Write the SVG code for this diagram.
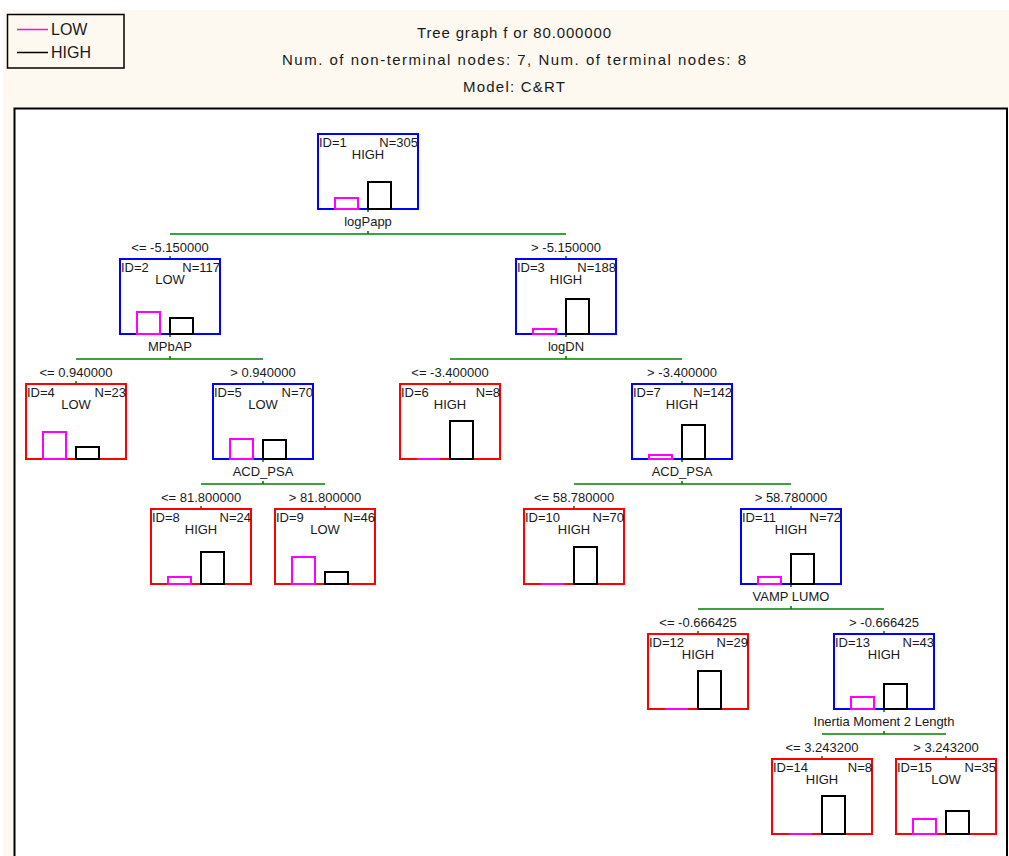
<svg xmlns="http://www.w3.org/2000/svg" width="1009" height="856" viewBox="0 0 1009 856">
  <style>
    text { font-family: "Liberation Sans", Arial, sans-serif; fill: #1a1a1a; }
    .hdr { font-size: 15px; text-anchor: middle; }
    .leg { font-size: 16px; }
    .nt { font-size: 13px; }
    .mid { text-anchor: middle; }
    .end { text-anchor: end; }
    .split { fill: #ffffff; stroke: #0000ff; stroke-width: 2; }
    .leaf { fill: #ffffff; stroke: #ff0000; stroke-width: 2; }
    .lo { fill: none; stroke: #ff00ff; stroke-width: 2; }
    .hi { fill: none; stroke: #000000; stroke-width: 2; }
    .edge { fill: none; stroke: #008000; stroke-width: 1.6; }
    .tick { fill: none; stroke: #008000; stroke-width: 1.6; }
    .lbl { font-size: 13px; text-anchor: middle; }
  </style>

  <!-- page background and plot frame -->
  <rect x="3" y="10" width="1006" height="846" fill="#fdf9f0"/>
  <rect x="14.5" y="108.5" width="992.5" height="760" fill="#ffffff" stroke="#000000" stroke-width="2"/>

  <!-- legend -->
  <g id="legend">
    <rect x="7.5" y="14.5" width="116.5" height="53.5" fill="#fdf9f0" stroke="#000000" stroke-width="1.5"/>
    <line x1="17" y1="29.5" x2="48" y2="29.5" stroke="#ff00ff" stroke-width="1.5"/>
    <text class="leg" x="51" y="35">LOW</text>
    <line x1="17" y1="52.5" x2="48" y2="52.5" stroke="#000000" stroke-width="1.5"/>
    <text class="leg" x="51" y="58">HIGH</text>
  </g>

  <!-- header -->
  <g id="title">
    <text class="hdr" x="514" y="38" textLength="194" lengthAdjust="spacing">Tree graph f or 80.000000</text>
    <text class="hdr" x="514" y="65" textLength="464" lengthAdjust="spacing">Num. of non-terminal nodes: 7,  Num. of terminal nodes: 8</text>
    <text class="hdr" x="514" y="92" textLength="102" lengthAdjust="spacing">Model: C&amp;RT</text>
  </g>

  <!-- connectors: split bars with short ticks, and branch conditions -->
  <g id="connectors">
    <path class="edge" d="M170 234H566"/>
    <path class="tick" d="M368 209V212 M368 231V234 M170 256V259 M566 256V259"/>
    <path class="edge" d="M76 359H263"/>
    <path class="tick" d="M170 334V337 M170 356V359 M76 381V384 M263 381V384"/>
    <path class="edge" d="M450 359H682"/>
    <path class="tick" d="M566 334V337 M566 356V359 M450 381V384 M682 381V384"/>
    <path class="edge" d="M201 484H325"/>
    <path class="tick" d="M263 459V462 M263 481V484 M201 506V509 M325 506V509"/>
    <path class="edge" d="M574 484H791"/>
    <path class="tick" d="M682 459V462 M682 481V484 M574 506V509 M791 506V509"/>
    <path class="edge" d="M698 609H884"/>
    <path class="tick" d="M791 584V587 M791 606V609 M698 631V634 M884 631V634"/>
    <path class="edge" d="M822 734H946"/>
    <path class="tick" d="M884 709V712 M884 731V734 M822 756V759 M946 756V759"/>

    <text class="lbl" x="170" y="252">&lt;= -5.150000</text>
    <text class="lbl" x="566" y="252">&gt; -5.150000</text>
    <text class="lbl" x="76" y="377">&lt;= 0.940000</text>
    <text class="lbl" x="263" y="377">&gt; 0.940000</text>
    <text class="lbl" x="450" y="377">&lt;= -3.400000</text>
    <text class="lbl" x="682" y="377">&gt; -3.400000</text>
    <text class="lbl" x="201" y="502">&lt;= 81.800000</text>
    <text class="lbl" x="325" y="502">&gt; 81.800000</text>
    <text class="lbl" x="574" y="502">&lt;= 58.780000</text>
    <text class="lbl" x="791" y="502">&gt; 58.780000</text>
    <text class="lbl" x="698" y="627">&lt;= -0.666425</text>
    <text class="lbl" x="884" y="627">&gt; -0.666425</text>
    <text class="lbl" x="822" y="752">&lt;= 3.243200</text>
    <text class="lbl" x="946" y="752">&gt; 3.243200</text>
  </g>

  <!-- nodes: box, header text, class histogram, split variable -->
  <g id="node1">
    <rect class="split" x="318" y="134" width="100" height="75"/>
    <text class="nt" x="319" y="147">ID=1</text>
    <text class="nt end" x="418" y="147">N=305</text>
    <text class="nt mid" x="368" y="159">HIGH</text>
    <rect class="lo" x="335" y="198" width="23" height="11"/>
    <rect class="hi" x="368" y="182" width="23" height="27"/>
    <text class="lbl" x="368" y="226">logPapp</text>
  </g>
  <g id="node2">
    <rect class="split" x="120" y="259" width="100" height="75"/>
    <text class="nt" x="121" y="272">ID=2</text>
    <text class="nt end" x="220" y="272">N=117</text>
    <text class="nt mid" x="170" y="284">LOW</text>
    <rect class="lo" x="137" y="312" width="23" height="22"/>
    <rect class="hi" x="170" y="318" width="23" height="16"/>
    <text class="lbl" x="170" y="351">MPbAP</text>
  </g>
  <g id="node3">
    <rect class="split" x="516" y="259" width="100" height="75"/>
    <text class="nt" x="517" y="272">ID=3</text>
    <text class="nt end" x="616" y="272">N=188</text>
    <text class="nt mid" x="566" y="284">HIGH</text>
    <rect class="lo" x="533" y="329" width="23" height="5"/>
    <rect class="hi" x="566" y="299" width="23" height="35"/>
    <text class="lbl" x="566" y="351">logDN</text>
  </g>
  <g id="node4">
    <rect class="leaf" x="26" y="384" width="100" height="75"/>
    <text class="nt" x="27" y="397">ID=4</text>
    <text class="nt end" x="126" y="397">N=23</text>
    <text class="nt mid" x="76" y="409">LOW</text>
    <rect class="lo" x="43" y="432" width="23" height="27"/>
    <rect class="hi" x="76" y="447" width="23" height="12"/>
  </g>
  <g id="node5">
    <rect class="split" x="213" y="384" width="100" height="75"/>
    <text class="nt" x="214" y="397">ID=5</text>
    <text class="nt end" x="313" y="397">N=70</text>
    <text class="nt mid" x="263" y="409">LOW</text>
    <rect class="lo" x="230" y="439" width="23" height="20"/>
    <rect class="hi" x="263" y="440" width="23" height="19"/>
    <text class="lbl" x="263" y="476">ACD_PSA</text>
  </g>
  <g id="node6">
    <rect class="leaf" x="400" y="384" width="100" height="75"/>
    <text class="nt" x="401" y="397">ID=6</text>
    <text class="nt end" x="500" y="397">N=8</text>
    <text class="nt mid" x="450" y="409">HIGH</text>
    <line class="lo" x1="417" y1="459" x2="440" y2="459"/>
    <rect class="hi" x="450" y="421" width="23" height="38"/>
  </g>
  <g id="node7">
    <rect class="split" x="632" y="384" width="100" height="75"/>
    <text class="nt" x="633" y="397">ID=7</text>
    <text class="nt end" x="732" y="397">N=142</text>
    <text class="nt mid" x="682" y="409">HIGH</text>
    <rect class="lo" x="649" y="455" width="23" height="4"/>
    <rect class="hi" x="682" y="425" width="23" height="34"/>
    <text class="lbl" x="682" y="476">ACD_PSA</text>
  </g>
  <g id="node8">
    <rect class="leaf" x="151" y="509" width="100" height="75"/>
    <text class="nt" x="152" y="522">ID=8</text>
    <text class="nt end" x="251" y="522">N=24</text>
    <text class="nt mid" x="201" y="534">HIGH</text>
    <rect class="lo" x="168" y="577" width="23" height="7"/>
    <rect class="hi" x="201" y="552" width="23" height="32"/>
  </g>
  <g id="node9">
    <rect class="leaf" x="275" y="509" width="100" height="75"/>
    <text class="nt" x="276" y="522">ID=9</text>
    <text class="nt end" x="375" y="522">N=46</text>
    <text class="nt mid" x="325" y="534">LOW</text>
    <rect class="lo" x="292" y="557" width="23" height="27"/>
    <rect class="hi" x="325" y="572" width="23" height="12"/>
  </g>
  <g id="node10">
    <rect class="leaf" x="524" y="509" width="100" height="75"/>
    <text class="nt" x="525" y="522">ID=10</text>
    <text class="nt end" x="624" y="522">N=70</text>
    <text class="nt mid" x="574" y="534">HIGH</text>
    <line class="lo" x1="541" y1="584" x2="564" y2="584"/>
    <rect class="hi" x="574" y="547" width="23" height="37"/>
  </g>
  <g id="node11">
    <rect class="split" x="741" y="509" width="100" height="75"/>
    <text class="nt" x="742" y="522">ID=11</text>
    <text class="nt end" x="841" y="522">N=72</text>
    <text class="nt mid" x="791" y="534">HIGH</text>
    <rect class="lo" x="758" y="577" width="23" height="7"/>
    <rect class="hi" x="791" y="554" width="23" height="30"/>
    <text class="lbl" x="791" y="601">VAMP LUMO</text>
  </g>
  <g id="node12">
    <rect class="leaf" x="648" y="634" width="100" height="75"/>
    <text class="nt" x="649" y="647">ID=12</text>
    <text class="nt end" x="748" y="647">N=29</text>
    <text class="nt mid" x="698" y="659">HIGH</text>
    <line class="lo" x1="665" y1="709" x2="688" y2="709"/>
    <rect class="hi" x="698" y="671" width="23" height="38"/>
  </g>
  <g id="node13">
    <rect class="split" x="834" y="634" width="100" height="75"/>
    <text class="nt" x="835" y="647">ID=13</text>
    <text class="nt end" x="934" y="647">N=43</text>
    <text class="nt mid" x="884" y="659">HIGH</text>
    <rect class="lo" x="851" y="697" width="23" height="12"/>
    <rect class="hi" x="884" y="684" width="23" height="25"/>
    <text class="lbl" x="884" y="726">Inertia Moment 2 Length</text>
  </g>
  <g id="node14">
    <rect class="leaf" x="772" y="759" width="100" height="75"/>
    <text class="nt" x="773" y="772">ID=14</text>
    <text class="nt end" x="872" y="772">N=8</text>
    <text class="nt mid" x="822" y="784">HIGH</text>
    <line class="lo" x1="789" y1="834" x2="812" y2="834"/>
    <rect class="hi" x="822" y="796" width="23" height="38"/>
  </g>
  <g id="node15">
    <rect class="leaf" x="896" y="759" width="100" height="75"/>
    <text class="nt" x="897" y="772">ID=15</text>
    <text class="nt end" x="996" y="772">N=35</text>
    <text class="nt mid" x="946" y="784">LOW</text>
    <rect class="lo" x="913" y="819" width="23" height="15"/>
    <rect class="hi" x="946" y="811" width="23" height="23"/>
  </g>
</svg>
